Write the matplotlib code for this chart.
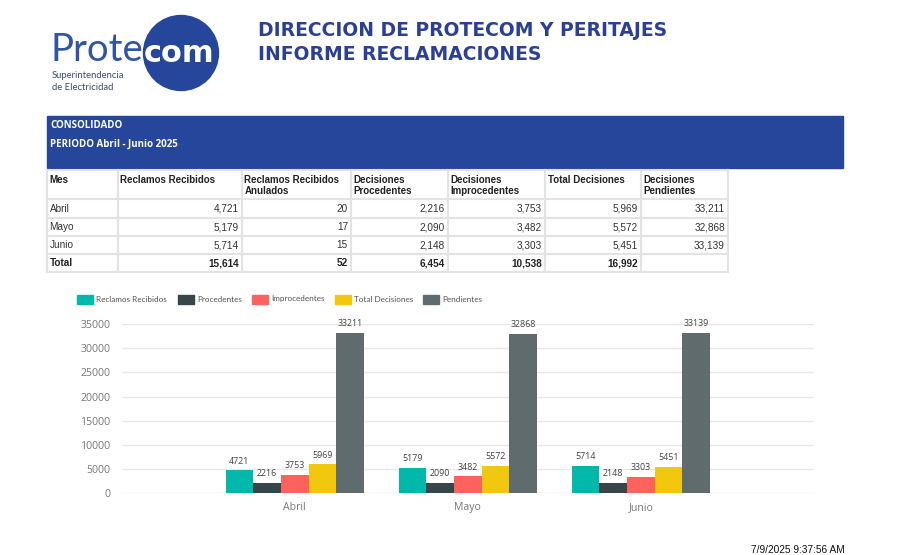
import numpy as np
import matplotlib
matplotlib.use("Agg")
import matplotlib.pyplot as plt
from matplotlib.patches import Rectangle, Circle

# ---------------- data ----------------
months = ["Abril", "Mayo", "Junio"]
reclamos = [4721, 5179, 5714]
anulados = [20, 17, 15]
procedentes = [2216, 2090, 2148]
improcedentes = [3753, 3482, 3303]
total_decisiones = [5969, 5572, 5451]
pendientes = [33211, 32868, 33139]

table_headers = ["Mes", "Reclamos Recibidos", "Reclamos Recibidos\nAnulados",
                 "Decisiones\nProcedentes", "Decisiones\nImprocedentes",
                 "Total Decisiones", "Decisiones\nPendientes"]
total_label = "Total"
series_names = ["Reclamos Recibidos", "Procedentes", "Improcedentes",
                "Total Decisiones", "Pendientes"]
series_values = [reclamos, procedentes, improcedentes, total_decisiones, pendientes]
yticks = [0, 5000, 10000, 15000, 20000, 25000, 30000, 35000]

# ---------------- style ----------------
series_colors = ["#01B8AA", "#374649", "#FD625E", "#F2C80F", "#5F6B6D"]
blue = "#26469B"
title_blue = "#2B3F96"

W, H = 900, 555
fig = plt.figure(figsize=(9, 5.55), dpi=100)
fig.patch.set_facecolor("white")

ov = fig.add_axes([0, 0, 1, 1])
ov.set_xlim(0, W)
ov.set_ylim(H, 0)
ov.axis("off")
ov.set_zorder(0)

# ---- logo ----
ov.add_patch(Circle((181, 53), 37.5, color=blue, zorder=2))
ov.text(51, 50, "Prote", fontsize=27.5, color="#2F55A4", family="Lato",
        fontweight="normal", va="center", ha="left", zorder=3)
ov.text(179.5, 53, "com", fontsize=22, color="white", family="DejaVu Sans",
        fontweight="bold", va="center", ha="center", zorder=3)
ov.text(52, 75, "Superintendencia", fontsize=6.8, color="#3C4A78",
        family="Lato", va="center", ha="left", zorder=3)
ov.text(52, 87, "de Electricidad", fontsize=6.8, color="#3C4A78",
        family="Lato", va="center", ha="left", zorder=3)

# ---- title ----
ov.text(258, 31, "DIRECCION DE PROTECOM Y PERITAJES", fontsize=13.5,
        fontweight="bold", color=title_blue, family="DejaVu Sans",
        va="center", ha="left")
ov.text(258, 55, "INFORME RECLAMACIONES", fontsize=13.5,
        fontweight="bold", color=title_blue, family="DejaVu Sans",
        va="center", ha="left")

# ---- banner ----
ov.add_patch(Rectangle((47, 116), 796, 52, color=blue, zorder=1))
ov.text(50, 126, "CONSOLIDADO", fontsize=7, fontweight="bold", color="white",
        family="Open Sans", va="center", ha="left")
ov.text(50, 144, "PERIODO Abril - Junio 2025", fontsize=7, fontweight="bold",
        color="white", family="Open Sans", va="center", ha="left")

# ---- table ----
col_edges = [47, 118, 242, 351, 448, 545, 641, 728]
row_edges = [170, 199, 218, 236, 254, 272]
grid_c = "#E3E3E3"
for xe in col_edges:
    ov.plot([xe, xe], [row_edges[0], row_edges[-1]], color=grid_c, lw=1.5, zorder=2)
for ye in row_edges:
    ov.plot([col_edges[0], col_edges[-1]], [ye, ye], color=grid_c, lw=1.5, zorder=2)

for j, h in enumerate(table_headers):
    ov.text(col_edges[j] + 2.5, 175, h, fontsize=7, fontweight="bold",
            color="#222222", family="Liberation Sans", va="top", ha="left",
            linespacing=1.15, zorder=3)

cols = [reclamos, anulados, procedentes, improcedentes, total_decisiones, pendientes]
for i, m in enumerate(months):
    yc = (row_edges[i + 1] + row_edges[i + 2]) / 2
    ov.text(col_edges[0] + 2.5, yc, m, fontsize=7.2, color="#333333",
            family="Liberation Sans", va="center", ha="left", zorder=3)
    for j, col in enumerate(cols):
        ov.text(col_edges[j + 2] - 3, yc, f"{col[i]:,}", fontsize=7.2,
                color="#333333", family="Liberation Sans", va="center",
                ha="right", zorder=3)

yc = (row_edges[4] + row_edges[5]) / 2
ov.text(col_edges[0] + 2.5, yc, total_label, fontsize=7.2, fontweight="bold",
        color="#222222", family="Liberation Sans", va="center", ha="left", zorder=3)
for j, col in enumerate(cols[:5]):
    ov.text(col_edges[j + 2] - 3, yc, f"{sum(col):,}", fontsize=7.2,
            fontweight="bold", color="#222222", family="Liberation Sans",
            va="center", ha="right", zorder=3)

# ---- legend ----
leg_x = [77, 178, 252, 335, 423]
for k, (name, c) in enumerate(zip(series_names, series_colors)):
    ov.add_patch(Rectangle((leg_x[k], 294.5), 15.5, 9, color=c, zorder=3))
    ov.text(leg_x[k] + 19.5, 299, name, fontsize=5.9, color="#555555",
            family="Lato", va="center", ha="left", zorder=3)

# ---- date ----
ov.text(845, 550, "7/9/2025 9:37:56 AM", fontsize=7.3, color="#111111",
        family="Liberation Sans", va="center", ha="right")

# ---------------- bar chart ----------------
ax = fig.add_axes([121.7 / W, 1 - 493.3 / H, 692.3 / W, 169.3 / H])
ax.set_zorder(2)
ax.patch.set_alpha(0)
x = np.arange(len(months))
bw = 0.16
for k, (vals, c) in enumerate(zip(series_values, series_colors)):
    pos = x + (k - 2) * bw
    bars = ax.bar(pos, vals, width=bw, color=c, zorder=3)
    for b, v in zip(bars, vals):
        ax.annotate(str(v), (b.get_x() + b.get_width() / 2, v),
                    xytext=(0, 3.5), textcoords="offset points",
                    ha="center", va="bottom", fontsize=6.4, color="#444444",
                    family="Open Sans", annotation_clip=False)

ax.set_xlim(-1, 3)
ax.set_ylim(0, 35000)
ax.set_yticks(yticks)
ax.set_yticklabels([str(t) for t in yticks], fontsize=7.6, color="#777777",
                   family="Open Sans")
ax.set_xticks(x)
ax.set_xticklabels(months, fontsize=7.6, color="#777777", family="Open Sans")
ax.tick_params(axis="both", length=0, pad=8)
ax.tick_params(axis="x", pad=6)
ax.grid(axis="y", color="#E8E8E8", lw=1, zorder=0)
for s in ax.spines.values():
    s.set_visible(False)

fig.savefig("out.png", dpi=100, facecolor="white")
